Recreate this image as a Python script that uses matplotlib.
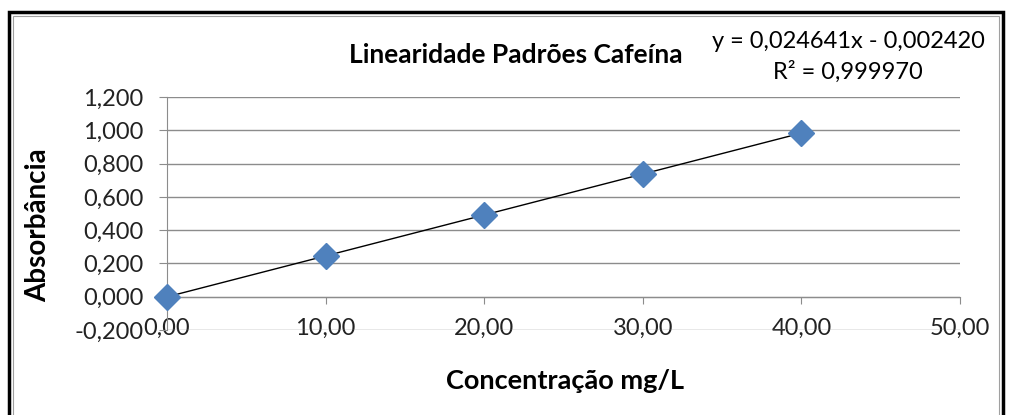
import numpy as np
import matplotlib.pyplot as plt
from matplotlib.patches import Rectangle
from matplotlib.ticker import FuncFormatter

plt.rcParams['font.family'] = ['Lato', 'DejaVu Sans']

# dados
conc = [0, 10, 20, 30, 40]
absorb = [0.000, 0.245, 0.490, 0.737, 0.984]
x_ticks = [0, 10, 20, 30, 40, 50]
y_ticks = [-0.2, 0.0, 0.2, 0.4, 0.6, 0.8, 1.0, 1.2]
titulo = "Linearidade Padrões Cafeína"
eq_txt = "y = 0,024641x - 0,002420"
r2_txt = "R² = 0,999970"

fig = plt.figure(figsize=(10.1, 4.15), dpi=100)
ax = fig.add_axes([167/1010, (415-330)/415, (960-167)/1010, (330-97)/415])

# borda da figura
fig.patches.append(Rectangle((9/1010, -0.1), (1003-9)/1010, 1.1 - 12/415,
                             transform=fig.transFigure, fill=False,
                             edgecolor='black', lw=2.5))
fig.patches.append(Rectangle((13/1010, -0.1), (999-13)/1010, 1.1 - 16/415,
                             transform=fig.transFigure, fill=False,
                             edgecolor='#a0a0a0', lw=0.8))

ax.set_xlim(0, 50)
ax.set_ylim(-0.2, 1.2)
ax.set_xticks(x_ticks)
ax.set_yticks(y_ticks)
ax.grid(axis='y', color='#8c8c8c', lw=1)
ax.set_axisbelow(True)

# linha de tendencia
a, b = np.polyfit(conc, absorb, 1)
xl = np.array([conc[0], conc[-1]])
ax.plot(xl, a*xl + b, color='black', lw=1, zorder=2)
ax.plot(conc, absorb, 'D', color='#4f81bd', markersize=13, zorder=3,
        clip_on=False)

for s in ['top', 'right']:
    ax.spines[s].set_visible(False)
ax.spines['bottom'].set_position(('data', 0))
ax.spines['left'].set_color('#8c8c8c')
ax.spines['bottom'].set_color('#8c8c8c')

fmt = lambda v, p: f"{v:.2f}".replace('.', ',')
fmty = lambda v, p: f"{v:.3f}".replace('.', ',')
ax.xaxis.set_major_formatter(FuncFormatter(fmt))
ax.yaxis.set_major_formatter(FuncFormatter(fmty))
ax.tick_params(axis='x', direction='out', length=5, color='#8c8c8c',
               labelsize=17, pad=10, labelcolor='#222222')
ax.tick_params(axis='y', direction='out', length=6, color='#8c8c8c',
               labelsize=17, pad=11, labelcolor='#222222')

fig.text(516/1010, 1 - 55/415, titulo, ha='center', va='center',
         fontsize=19, fontweight='bold')
fig.text(848/1010, 1 - 42/415, eq_txt, ha='center', va='center', fontsize=17)
fig.text(848/1010, 1 - 72/415, r2_txt, ha='center', va='center', fontsize=17)
fig.text(38/1010, 1 - 225/415, "Absorbância", rotation=90, ha='center',
         va='center', fontsize=20, fontweight='bold')
fig.text(565/1010, 1 - 381/415, "Concentração mg/L", ha='center',
         va='center', fontsize=19.5, fontweight='bold')

fig.savefig('out.png', dpi=100)
